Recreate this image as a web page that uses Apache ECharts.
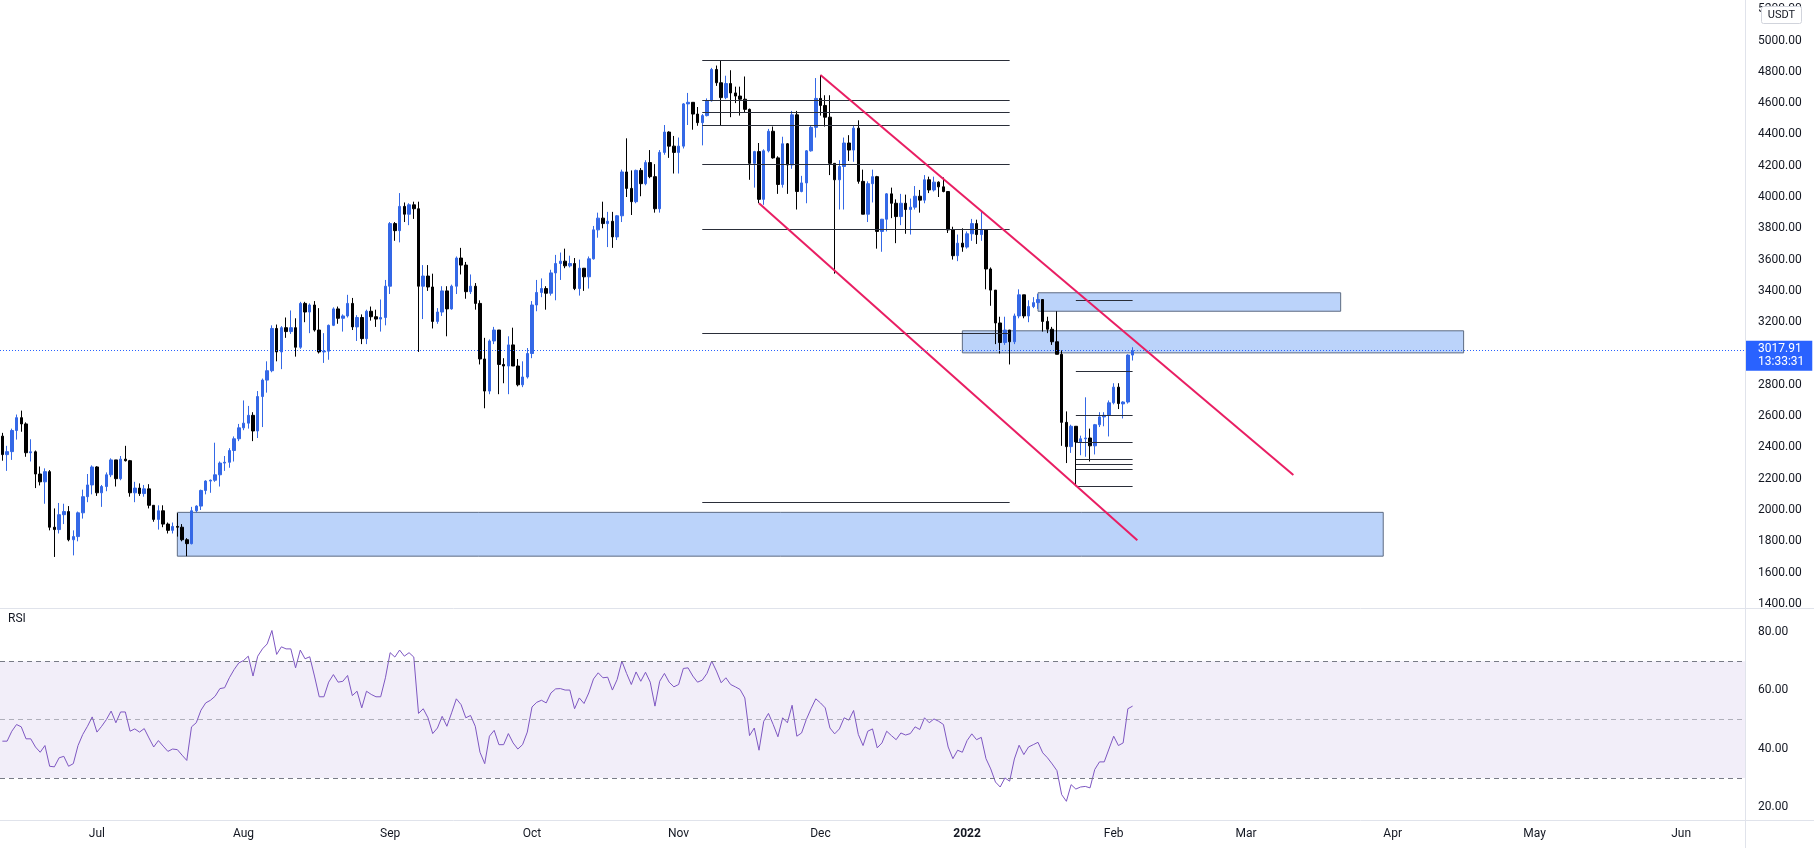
<!DOCTYPE html>
<html>
<head>
<meta charset="utf-8">
<title>ETHUSDT 1D</title>
<style>html,body{margin:0;padding:0;background:#fff;}</style>
</head>
<body>
<div id="main" style="width:1814px;height:848px"></div>
<script src="https://cdn.jsdelivr.net/npm/echarts@6/dist/echarts.min.js"></script>
<script>
// x axis runs one category per day
var firstDay = '2021-06-11';
var dayCount = 369;

// daily candles, 2021-06-11 .. 2022-02-05
var opens = [
  2472,2354,2373,2508,2590,2550,2366,2372,2230,2180,
  2245,1890,1875,1970,1990,1810,1830,1982,2085,2160,
  2275,2110,2150,2225,2320,2200,2325,2315,2110,2140,
  2105,2135,2030,1940,1995,1910,1870,1895,1890,1810,
  1785,1995,2025,2125,2185,2190,2225,2300,2305,2380,
  2455,2525,2555,2605,2505,2725,2830,2890,3160,3010,
  3165,3140,3165,3040,3320,3265,3310,3150,3010,3015,
  3180,3285,3225,3240,3320,3170,3230,3095,3270,3235,
  3220,3230,3430,3830,3785,3940,3890,3950,3925,3430,
  3495,3425,3205,3265,3400,3285,3430,3610,3565,3395,
  3430,3320,2965,2760,3080,3150,2930,2920,3055,2920,
  2800,2850,3000,3310,3390,3415,3385,3515,3575,3590,
  3560,3575,3415,3545,3490,3605,3790,3865,3830,3845,
  3745,3880,4160,4055,3970,4170,4085,4220,4130,3925,
  4285,4415,4325,4285,4325,4595,4605,4530,4475,4520,
  4615,4815,4730,4635,4725,4665,4645,4625,4560,4215,
  4290,3985,4295,4420,4250,4080,4340,4205,4525,4035,
  4090,4295,4445,4630,4585,4510,4215,4110,4195,4345,
  4300,4440,4100,3890,4085,4130,3780,3858,4020,3960,
  3875,3960,3920,3935,4005,3980,4110,4045,4095,4065,
  4035,3790,3625,3705,3680,3765,3830,3760,3790,3540,
  3405,3195,3070,3150,3075,3240,3375,3240,3300,3325,
  3345,3205,3155,3075,2995,2560,2405,2535,2435,2455,
  2460,2410,2545,2595,2605,2685,2785,2678,2690,2990
];
var highs = [
  2493,2410,2520,2610,2635,2560,2452,2380,2278,2266,
  2255,2010,2045,2040,2025,1870,1990,2130,2230,2285,
  2280,2160,2240,2330,2320,2345,2410,2320,2180,2170,
  2160,2165,2030,2030,2030,1920,1920,1980,1910,1820,
  2020,2030,2130,2190,2195,2430,2310,2345,2395,2470,
  2550,2700,2665,2625,2760,2840,2950,3180,3185,3175,
  3230,3275,3225,3330,3330,3320,3335,3290,3130,3185,
  3295,3300,3250,3375,3355,3245,3250,3280,3300,3280,
  3345,3470,3840,3840,4025,3965,3960,3970,3970,3565,
  3565,3510,3290,3430,3430,3440,3620,3675,3585,3505,
  3450,3340,3100,3090,3170,3150,2970,3110,3165,2965,
  2950,3035,3335,3470,3480,3430,3535,3630,3645,3670,
  3625,3610,3600,3545,3620,3815,3900,3970,3905,3905,
  3885,4175,4375,4170,4175,4185,4235,4300,4210,4300,
  4460,4420,4390,4380,4600,4665,4605,4575,4530,4630,
  4825,4840,4870,4775,4810,4705,4705,4770,4565,4295,
  4345,4305,4435,4450,4260,4385,4345,4550,4550,4135,
  4300,4455,4760,4780,4650,4650,4215,4235,4380,4395,
  4460,4490,4175,4100,4175,4135,3860,4025,4060,3985,
  4020,4015,3990,4070,4045,4140,4130,4130,4100,4125,
  4035,3810,3760,3800,3780,3860,3855,3905,3790,3550,
  3405,3235,3235,3150,3255,3410,3375,3340,3360,3380,
  3345,3235,3170,3270,3020,2630,2545,2535,2475,2720,
  2520,2550,2625,2625,2700,2810,2810,2695,2995,3040
];
var lows = [
  2315,2250,2320,2450,2500,2340,2310,2140,2157,2040,
  1870,1700,1850,1910,1800,1710,1800,1945,2050,2100,
  2090,2020,2120,2210,2150,2190,2310,2085,2050,2090,
  2085,2010,1925,1875,1890,1850,1850,1830,1800,1705,
  1780,1985,2000,2100,2110,2180,2150,2250,2270,2310,
  2440,2510,2520,2440,2460,2530,2750,2880,2950,2900,
  3100,3125,2980,3030,3200,3130,3140,3000,2940,2960,
  3175,3190,3140,3230,3150,3080,3060,3060,3210,3170,
  3140,3180,3380,3720,3710,3840,3820,3860,3010,3220,
  3400,3160,3190,3240,3110,3280,3380,3505,3350,3380,
  3280,2930,2650,2740,3060,2740,2810,2740,2920,2790,
  2785,2840,2970,3270,3360,3280,3370,3340,3470,3545,
  3550,3405,3370,3400,3415,3600,3740,3800,3680,3675,
  3725,3840,4000,3885,3960,4005,4075,4120,3900,3900,
  4270,4250,4150,4150,4310,4460,4430,4455,4330,4515,
  4610,4710,4460,4625,4510,4600,4520,4540,4110,4060,
  3960,3950,4285,4245,4020,4060,4020,4180,3920,4030,
  3960,4290,4380,4520,4450,4140,3510,3920,3920,4230,
  4225,4085,3890,3840,3965,3670,3650,3780,3865,3705,
  3820,3765,3760,3920,3900,3960,4025,4035,4000,4030,
  3770,3600,3590,3650,3670,3720,3700,3720,3410,3305,
  3060,3000,3055,2930,3060,3225,3225,3200,3290,3285,
  3140,3130,3055,2995,2410,2300,2365,2155,2350,2340,
  2310,2355,2530,2535,2470,2675,2645,2585,2680,2955
];
var closes = [
  2354,2373,2508,2590,2550,2366,2372,2230,2180,2245,
  1890,1875,1970,1990,1810,1830,1982,2085,2160,2275,
  2110,2150,2225,2320,2200,2325,2315,2110,2140,2105,
  2135,2030,1940,1995,1910,1870,1895,1890,1810,1785,
  1995,2025,2125,2185,2190,2225,2300,2305,2380,2455,
  2525,2555,2605,2505,2725,2830,2890,3160,3010,3165,
  3140,3165,3040,3320,3265,3310,3150,3010,3015,3180,
  3285,3225,3240,3320,3170,3230,3095,3270,3235,3220,
  3230,3430,3830,3785,3940,3890,3950,3925,3430,3495,
  3425,3205,3265,3400,3285,3430,3610,3565,3395,3430,
  3320,2965,2760,3080,3150,2930,2920,3055,2920,2800,
  2850,3000,3310,3390,3415,3385,3515,3575,3590,3560,
  3575,3415,3545,3490,3605,3790,3865,3830,3845,3745,
  3880,4160,4055,3970,4170,4085,4220,4130,3925,4285,
  4415,4325,4285,4325,4595,4605,4530,4475,4520,4615,
  4815,4730,4635,4725,4665,4645,4625,4560,4215,4290,
  3985,4295,4420,4250,4080,4340,4205,4525,4035,4090,
  4295,4445,4630,4585,4510,4215,4110,4195,4345,4300,
  4440,4100,3890,4085,4130,3780,3858,4020,3960,3875,
  3960,3920,3935,4005,3980,4110,4045,4095,4065,4035,
  3790,3625,3705,3680,3765,3830,3760,3790,3540,3405,
  3195,3070,3150,3075,3240,3375,3240,3300,3325,3345,
  3205,3155,3075,2995,2560,2405,2535,2435,2455,2460,
  2410,2545,2595,2605,2685,2785,2680,2690,2990,3017.91
];

// RSI (14)
var rsi = [
  42.6,42.6,46,48.3,47.5,43.4,43.4,40.6,38.8,41.1,
  34,33.8,36.9,37.4,34,34.9,41.1,44.9,47.7,50.9,
  45.7,47.7,50,52.9,48.9,52.6,52.6,46,46.8,45.7,
  46.9,43.7,40.6,42.8,40.9,39.1,39.9,39.7,37.8,36,
  47.5,48.9,53.2,55.7,56.6,58,60.6,60.9,64.3,67.1,
  69.4,70.2,71.7,64.9,71.7,74.2,75.9,80.5,72.3,74.9,
  74.2,74.2,67.7,73.8,70.8,71.5,64.9,57.8,57.8,62.8,
  65.4,62.8,63.1,65.1,58.2,59.7,54,59.7,58.6,57.8,
  57.8,64.3,72.9,71.4,73.8,71.7,72.9,71.4,52.1,53.7,
  50.6,45.2,47.1,51.1,47.7,52.3,57.1,55.1,50.6,51.4,
  47.7,38.8,34.9,44.3,46.3,41.4,41.4,45.2,42,39.9,
  41.4,45.7,54.3,55.9,56.6,55.7,59.1,60.5,60.6,60.1,
  60.1,53.7,57.4,55.5,59.1,63.9,66,64.3,64.5,60.1,
  63.7,70,65.8,62,66.3,63.1,66.2,62.8,54.6,63.1,
  65.8,62.8,61.2,62,67.5,67.7,64.9,62.8,63.5,65.8,
  70,66.6,62.6,64.3,62,61.2,60.3,57.4,44.5,47.1,
  39.5,49.4,52.1,48.3,44.1,50.6,48.9,54.9,44.3,45.4,
  50,53.7,57.1,55.7,54,47.1,45.1,46.8,50.6,49.8,
  53.1,44.9,41.1,46,46.8,40.3,42,46,44.5,43.1,
  45.4,44.7,45.2,47.5,46.6,50.6,48.9,50.2,49.4,48.3,
  40.6,36.6,39.5,38.8,42.8,45.1,43.1,43.9,36.6,33.1,
  28.6,26.9,30,28.9,36.5,41.2,38,40.6,41.4,42.2,
  38.6,36.9,34.8,32.5,24.3,22,27.7,26.2,26.9,27.1,
  26.6,32.9,35.5,35.5,39.9,44.3,41.1,42,53.7,54.6
];

var priceTicks = [1400,1600,1800,2000,2200,2400,2600,2800,3000,3200,3400,3600,3800,4000,4200,4400,4600,4800,5000,5200];
var rsiTicks = [20, 40, 60, 80];
var rsiLevels = [70, 50, 30];
var lastPrice = 3017.91;
var countdown = '13:33:31';

// drawings: zones [from, to, top, bottom]
var zones = [
  ['2021-07-18', '2022-03-30', 1985, 1705],
  ['2021-12-31', '2022-04-16', 3145, 3004],
  ['2022-01-16', '2022-03-21', 3388, 3270]
];
// horizontal level sets
var levelsA = [4873, 4618, 4543, 4458, 4209, 3794, 3131, 2051];
var levelsASpan = ['2021-11-06', '2022-01-10'];
var levelsB = [3340, 2888, 2605, 2433, 2326, 2292, 2260, 2152];
var levelsBSpan = ['2022-01-24', '2022-02-05'];
// trend lines [from, price, to, price]
var trendLines = [
  ['2021-12-01', 4780, '2022-03-11', 2224],
  ['2021-11-18', 3960, '2022-02-06', 1806]
];

var BLUE = '#3468e6';
var TXT = '#131722';
var FONT = 'Roboto, sans-serif';
var monthNames = ['Jan','Feb','Mar','Apr','May','Jun','Jul','Aug','Sep','Oct','Nov','Dec'];

var dates = [];
var t0 = Date.parse(firstDay + 'T00:00:00Z');
for (var i = 0; i < dayCount; i++) {
  dates.push(new Date(t0 + i * 86400000).toISOString().slice(0, 10));
}

var candles = [];
for (var i = 0; i < opens.length; i++) {
  candles.push([opens[i], closes[i], lows[i], highs[i]]);
}

function levelLines(levels, span) {
  return levels.map(function (p) {
    return [{ coord: [span[0], p] }, { coord: [span[1], p] }];
  });
}

var lineData = []
  .concat(levelLines(levelsA, levelsASpan))
  .concat(levelLines(levelsB, levelsBSpan))
  .concat(trendLines.map(function (l) {
    return [{ coord: [l[0], l[1]], lineStyle: { color: '#e91e63', width: 2, type: 'solid' } },
            { coord: [l[2], l[3]] }];
  }));
lineData.push({
  yAxis: lastPrice,
  lineStyle: { color: '#2962ff', width: 1, type: [1, 2] },
  label: {
    show: true, position: 'end', distance: 1, offset: [0, 5],
    formatter: lastPrice.toFixed(2) + '\n' + countdown,
    color: '#fff', backgroundColor: '#2962ff', fontFamily: FONT, fontSize: 12,
    lineHeight: 13, padding: [2, 8, 2, 12]
  }
});

var chart = echarts.init(document.getElementById('main'));

var option = {
  animation: false,
  backgroundColor: '#fff',
  textStyle: { fontFamily: FONT },
  grid: [
    { left: 0, right: 69, top: 0, height: 608 },
    { left: 0, right: 69, top: 608, height: 212 }
  ],
  xAxis: [
    { type: 'category', gridIndex: 0, data: dates, boundaryGap: true,
      axisLine: { show: false }, axisTick: { show: false }, axisLabel: { show: false }, splitLine: { show: false } },
    { type: 'category', gridIndex: 1, data: dates, boundaryGap: true,
      axisLine: { show: false }, axisTick: { show: false }, splitLine: { show: false },
      axisLabel: {
        margin: 8, color: TXT, fontSize: 12, fontFamily: FONT,
        interval: function (idx, val) { return val.slice(8) === '01'; },
        formatter: function (val) {
          var m = +val.slice(5, 7);
          return m === 1 ? '{y|' + val.slice(0, 4) + '}' : monthNames[m - 1];
        },
        rich: { y: { fontWeight: 'bold', color: TXT, fontSize: 12, fontFamily: FONT } }
      } }
  ],
  yAxis: [
    { type: 'value', gridIndex: 0, position: 'right', min: 1373.8, max: 5258.8, scale: true,
      axisLine: { show: false }, axisTick: { show: false }, splitLine: { show: false },
      axisLabel: { customValues: priceTicks, margin: 13, color: TXT, fontSize: 12, fontFamily: FONT,
        formatter: function (v) { return v.toFixed(2); } } },
    { type: 'value', gridIndex: 1, position: 'right', min: 15.6, max: 88.2,
      axisLine: { show: false }, axisTick: { show: false }, splitLine: { show: false },
      axisLabel: { customValues: rsiTicks, margin: 13, color: TXT, fontSize: 12, fontFamily: FONT,
        formatter: function (v) { return v.toFixed(2); } } }
  ],
  series: [
    {
      name: 'ETHUSDT', type: 'candlestick', xAxisIndex: 0, yAxisIndex: 0, z: 2,
      data: candles, barWidth: 3,
      itemStyle: { color: BLUE, color0: '#000', borderColor: BLUE, borderColor0: '#000',
        borderColorDoji: '#000', borderWidth: 1 }
    },
    {
      name: 'drawings', type: 'line', xAxisIndex: 0, yAxisIndex: 0, z: 3, data: [],
      markLine: {
        silent: true, symbol: ['none', 'none'], animation: false,
        label: { show: false },
        lineStyle: { color: '#2a2e39', width: 1, type: 'solid' },
        data: lineData
      }
    },
    {
      name: 'zones', type: 'line', xAxisIndex: 0, yAxisIndex: 0, z: 4, data: [],
      markArea: {
        silent: true, animation: false,
        itemStyle: { color: 'rgba(50,120,240,0.33)', borderColor: '#5d6b82', borderWidth: 1 },
        data: zones.map(function (z) {
          return [{ xAxis: z[0], yAxis: z[2] }, { xAxis: z[1], yAxis: z[3] }];
        })
      }
    },
    {
      name: 'RSI', type: 'line', xAxisIndex: 1, yAxisIndex: 1, z: 3,
      data: rsi, symbol: 'none', lineStyle: { color: '#7e57c2', width: 1 },
      markArea: {
        silent: true,
        itemStyle: { color: 'rgba(126,87,194,0.1)' },
        data: [[{ yAxis: rsiLevels[2] }, { yAxis: rsiLevels[0] }]]
      },
      markLine: {
        silent: true, symbol: ['none', 'none'], label: { show: false },
        data: rsiLevels.map(function (v) {
          return { yAxis: v, lineStyle: { type: [5, 4], width: 1,
            color: v === 50 ? 'rgba(120,123,134,0.55)' : '#787b86' } };
        })
      }
    }
  ],
  graphic: [
    { type: 'rect', z: 100, shape: { x: 1746, y: 609, width: 68, height: 9 }, style: { fill: '#fff' } },
    { type: 'line', z: 101, shape: { x1: 1745.5, y1: 0, x2: 1745.5, y2: 848 }, style: { stroke: '#e0e3eb', lineWidth: 1 } },
    { type: 'line', z: 101, shape: { x1: 0, y1: 608.5, x2: 1814, y2: 608.5 }, style: { stroke: '#e0e3eb', lineWidth: 1 } },
    { type: 'line', z: 101, shape: { x1: 0, y1: 820.5, x2: 1814, y2: 820.5 }, style: { stroke: '#e0e3eb', lineWidth: 1 } },
    { type: 'rect', z: 102, shape: { x: 1761.5, y: 6.5, width: 40, height: 17, r: 2 },
      style: { fill: '#fff', stroke: '#d1d4dc', lineWidth: 1 } },
    { type: 'text', z: 103, x: 1781.5, y: 15, style: { text: 'USDT', fill: TXT, font: '11px ' + FONT, align: 'center', verticalAlign: 'middle' } },
    { type: 'text', z: 103, x: 8, y: 619, style: { text: 'RSI', fill: TXT, font: '12px ' + FONT, verticalAlign: 'middle' } }
  ]
};

chart.setOption(option);
</script>
</body>
</html>
